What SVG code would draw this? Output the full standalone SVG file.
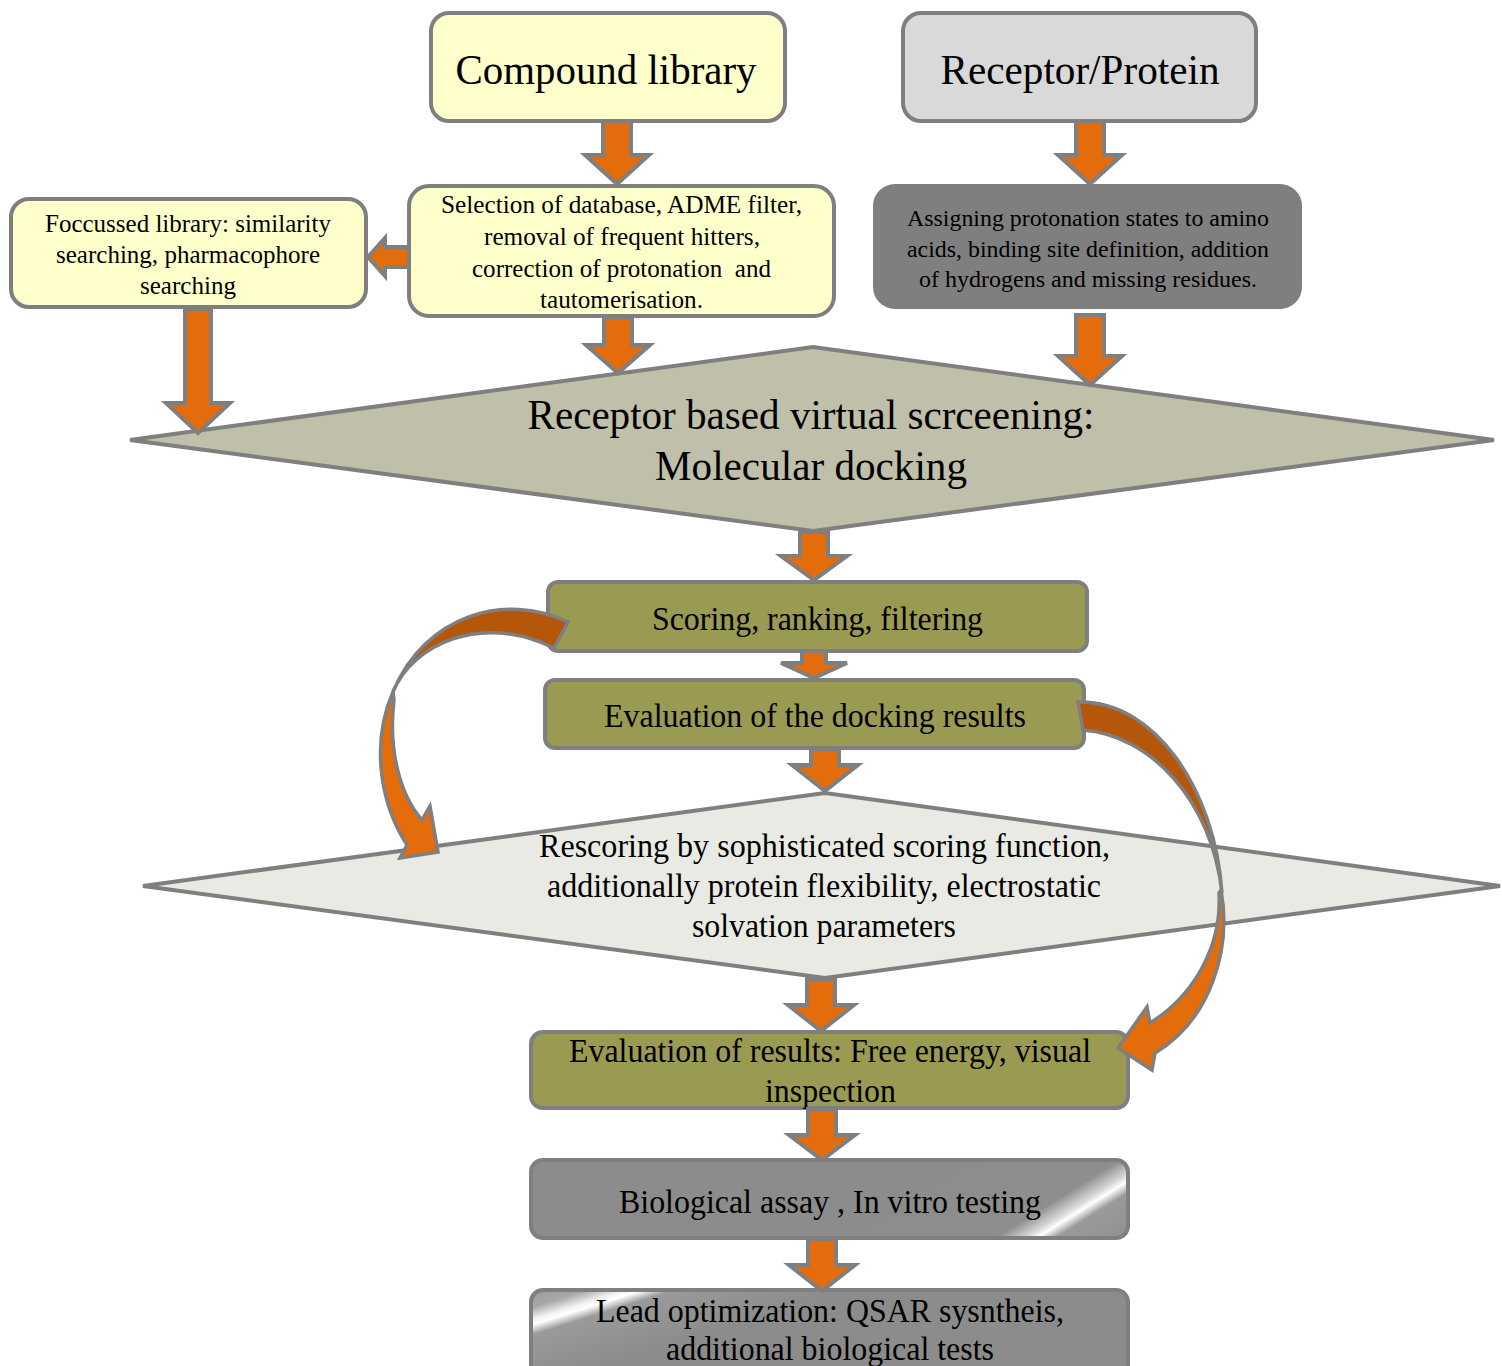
<svg xmlns="http://www.w3.org/2000/svg" width="1502" height="1366" viewBox="0 0 1502 1366">
<defs>
<style>
.box{stroke:#7F7F7F;stroke-width:4}
.yel{fill:#FFFFCC}
.olive{fill:#9B9A52}
.t{font-family:"Liberation Serif","Times New Roman",serif;fill:#000;text-anchor:middle}
.arr{fill:#E46C0A;stroke:#7F7F7F;stroke-width:4;stroke-linejoin:miter}
.carr{stroke:#7F7F7F;stroke-width:3.5;stroke-linejoin:miter}
.dark{fill:#B5570B}
.bright{fill:#E46C0A}
</style>
<linearGradient id="glossR" gradientUnits="userSpaceOnUse" x1="1023" y1="1126" x2="1129" y2="1296">
<stop offset="0" stop-color="#8C8C8C"/>
<stop offset="0.40" stop-color="#8E8E8E"/>
<stop offset="0.48" stop-color="#D8D8D8"/>
<stop offset="0.51" stop-color="#FFFFFF"/>
<stop offset="0.56" stop-color="#9A9A9A"/>
<stop offset="1" stop-color="#848484"/>
</linearGradient>
<linearGradient id="glossL" gradientUnits="userSpaceOnUse" x1="568" y1="1251" x2="604" y2="1365">
<stop offset="0" stop-color="#8C8C8C"/>
<stop offset="0.36" stop-color="#A8A8A8"/>
<stop offset="0.46" stop-color="#F4F4F4"/>
<stop offset="0.50" stop-color="#FFFFFF"/>
<stop offset="0.58" stop-color="#9A9A9A"/>
<stop offset="1" stop-color="#8C8C8C"/>
</linearGradient>
</defs>
<rect width="1502" height="1366" fill="#FFFFFF"/>

<g id="node-compound-library">
<rect class="box yel" x="431" y="13" width="354" height="108" rx="18"/>
<text class="t" x="606" y="84" font-size="42" textLength="301" lengthAdjust="spacingAndGlyphs">Compound library</text>
</g>
<g id="node-receptor-protein">
<rect class="box" fill="#D9D9D9" x="903" y="13" width="353" height="108" rx="18"/>
<text class="t" x="1080" y="84" font-size="42" textLength="279" lengthAdjust="spacingAndGlyphs">Receptor/Protein</text>
</g>
<g id="node-selection">
<rect class="box yel" x="409" y="186" width="425" height="130" rx="20"/>
<text class="t" font-size="25" x="621.5" y="213" textLength="361" lengthAdjust="spacingAndGlyphs">Selection of database, ADME filter,</text>
<text class="t" font-size="25" x="622" y="245" textLength="276" lengthAdjust="spacingAndGlyphs">removal of frequent hitters,</text>
<text class="t" font-size="25" x="621.5" y="277" textLength="299" lengthAdjust="spacingAndGlyphs" xml:space="preserve">correction of protonation  and</text>
<text class="t" font-size="25" x="621.5" y="308" textLength="163" lengthAdjust="spacingAndGlyphs">tautomerisation.</text>
</g>
<g id="node-focussed-library">
<rect class="box yel" x="11" y="199" width="355" height="108" rx="18"/>
<text class="t" font-size="25" x="188" y="232" textLength="286" lengthAdjust="spacingAndGlyphs">Foccussed library: similarity</text>
<text class="t" font-size="25" x="188" y="263" textLength="264" lengthAdjust="spacingAndGlyphs">searching, pharmacophore</text>
<text class="t" font-size="25" x="188" y="294" textLength="96" lengthAdjust="spacingAndGlyphs">searching</text>
</g>
<g id="node-assigning">
<rect fill="#7F7F7F" x="873" y="184" width="429" height="125" rx="22"/>
<text class="t" font-size="23" x="1088" y="226" textLength="362" lengthAdjust="spacingAndGlyphs">Assigning protonation states to amino</text>
<text class="t" font-size="23" x="1088" y="257" textLength="362" lengthAdjust="spacingAndGlyphs">acids, binding site definition, addition</text>
<text class="t" font-size="23" x="1088" y="287" textLength="338" lengthAdjust="spacingAndGlyphs">of hydrogens and missing residues.</text>
</g>
<g id="node-docking">
<polygon class="box" fill="#BFBFAA" points="130,440 813,347 1494,440 813,531"/>
<text class="t" font-size="42" x="811" y="429" textLength="567" lengthAdjust="spacingAndGlyphs">Receptor based virtual scrceening:</text>
<text class="t" font-size="42" x="811" y="480" textLength="312" lengthAdjust="spacingAndGlyphs">Molecular docking</text>
</g>
<g id="node-scoring">
<rect class="box olive" x="548" y="582" width="539" height="69" rx="10"/>
<text class="t" font-size="33" x="817.5" y="630" textLength="331" lengthAdjust="spacingAndGlyphs">Scoring, ranking, filtering</text>
</g>
<g id="node-evaluation-docking">
<rect class="box olive" x="545" y="680" width="539" height="68" rx="10"/>
<text class="t" font-size="33" x="815" y="727" textLength="422" lengthAdjust="spacingAndGlyphs">Evaluation of the docking results</text>
</g>
<g id="node-rescoring">
<polygon class="box" fill="#EAEAE5" points="143,886 825,793 1500,886 825,978"/>
<text class="t" font-size="33" x="824.5" y="857" textLength="571" lengthAdjust="spacingAndGlyphs">Rescoring by sophisticated scoring function,</text>
<text class="t" font-size="33" x="824" y="897" textLength="554" lengthAdjust="spacingAndGlyphs">additionally protein flexibility, electrostatic</text>
<text class="t" font-size="33" x="824" y="937" textLength="264" lengthAdjust="spacingAndGlyphs">solvation parameters</text>
</g>
<g id="node-evaluation-results">
<rect class="box olive" x="531" y="1032" width="597" height="76" rx="12"/>
<text class="t" font-size="33" x="830" y="1062" textLength="522" lengthAdjust="spacingAndGlyphs">Evaluation of results: Free energy, visual</text>
<text class="t" font-size="33" x="830.5" y="1102" textLength="131" lengthAdjust="spacingAndGlyphs">inspection</text>
</g>
<g id="node-biological-assay">
<rect class="box" fill="url(#glossR)" x="531" y="1160" width="597" height="78" rx="12"/>
<text class="t" font-size="33" x="830" y="1213" textLength="422" lengthAdjust="spacingAndGlyphs">Biological assay , In vitro testing</text>
</g>
<g id="node-lead-optimization">
<rect class="box" fill="url(#glossL)" x="531" y="1290" width="597" height="92" rx="12"/>
<text class="t" font-size="33" x="830" y="1322" textLength="468" lengthAdjust="spacingAndGlyphs">Lead optimization: QSAR sysntheis,</text>
<text class="t" font-size="33" x="830" y="1360" textLength="328" lengthAdjust="spacingAndGlyphs">additional biological tests</text>
</g>

<g id="connectors">
<polygon class="arr" points="603,121 631,121 631,155 649,155 617,184 585,155 603,155"/>
<polygon class="arr" points="1076,121 1104,121 1104,155 1122,155 1090,184 1058,155 1076,155"/>
<polygon class="arr" points="409,247 385,247 385,238 368,257 385,276 385,267 409,267"/>
<polygon class="arr" points="185,309 211,309 211,403 230,403 198,433 166,403 185,403"/>
<polygon class="arr" points="604,317 632,317 632,345 650,345 618,373 586,345 604,345"/>
<polygon class="arr" points="1076,315 1104,315 1104,356 1122,356 1090,385 1058,356 1076,356"/>
<polygon class="arr" points="800,532 828,532 828,556 847,556 814,580 781,556 800,556"/>
<polygon class="arr" points="802,651 826,651 826,663 847,663 814,678 781,663 802,663"/>
<polygon class="arr" points="811,749 839,749 839,765 858,765 825,791 792,765 811,765"/>
<polygon class="arr" points="807,979 835,979 835,1005 854,1005 821,1031 788,1005 807,1005"/>
<polygon class="arr" points="808,1109 836,1109 836,1135 855,1135 822,1160 789,1135 808,1135"/>
<polygon class="arr" points="808,1239 836,1239 836,1265 855,1265 822,1291 789,1265 808,1265"/>
<g id="curved-left">
<path class="carr dark" d="M568,622 C505,592 425,615 393,692 C412,645 480,612 554,648 Z"/>
<path class="carr bright" d="M393,692 C372,740 378,800 407,845 L400,858 L438,852 L430,806 L422,820 C400,795 388,750 394,700 Z"/>
</g>
<g id="curved-right">
<path class="carr dark" d="M1078,702 C1155,700 1215,790 1222,893 C1212,800 1150,735 1083,730 Z"/>
<path class="carr bright" d="M1221,890 C1232,950 1210,1020 1155,1053 L1152,1070 L1118,1048 L1147,1007 L1150,1023 C1195,995 1222,945 1219,893 Z"/>
</g>
</g>
</svg>
